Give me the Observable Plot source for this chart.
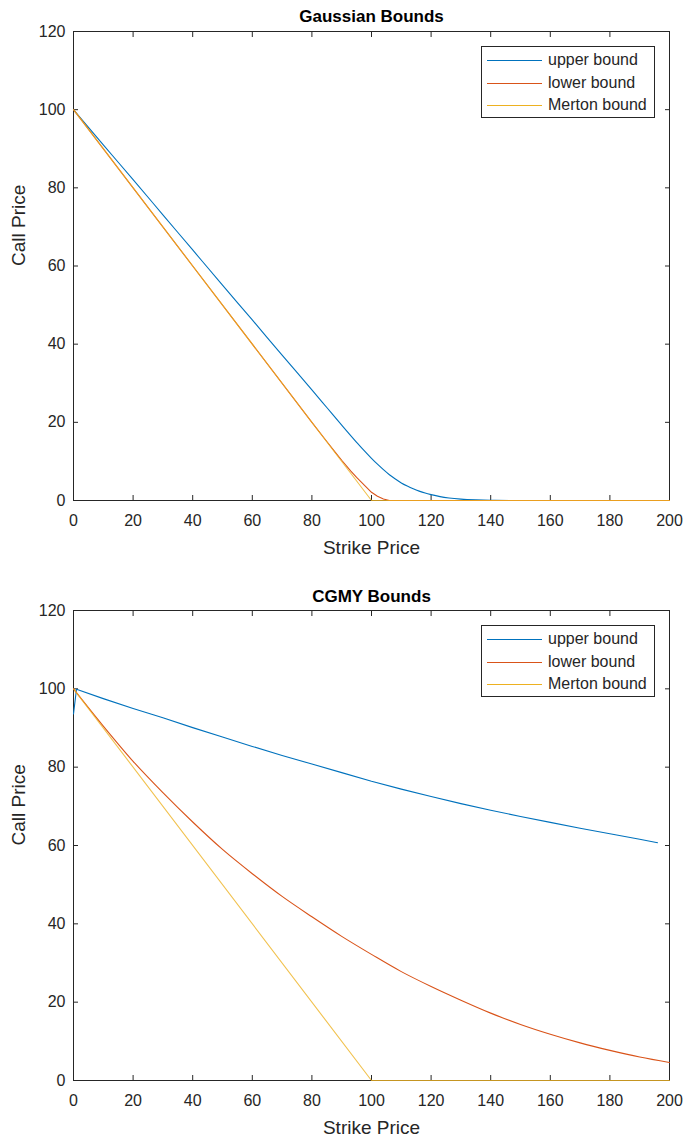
<!DOCTYPE html>
<html><head><meta charset="utf-8">
<script src="https://cdn.jsdelivr.net/npm/d3@7"></script>
<script src="https://cdn.jsdelivr.net/npm/@observablehq/plot@0.6"></script>
<style>
body{margin:0;background:#fff;font-family:"Liberation Sans",Arial,Helvetica,sans-serif;}
#wrap{position:relative;width:684px;height:1141px;}
.panel{position:absolute;left:0;width:684px;}
.legend{position:absolute;border:1px solid #262626;background:#fff;box-sizing:border-box;}
.row{position:absolute;left:0;height:20px;display:flex;align-items:center;font-size:16px;color:#262626;white-space:nowrap;}
.sw{display:inline-block;width:55px;height:1px;margin-left:5px;margin-right:6px;}
</style></head><body><div id="wrap"></div>
<script>
// ---- tick values ----
const xTicks = [0, 20, 40, 60, 80, 100, 120, 140, 160, 180, 200];
const yTicks = [0, 20, 40, 60, 80, 100, 120];
const seriesNames = ["upper bound", "lower bound", "Merton bound"];
const seriesColors = ["#0072BD", "#D95319", "#EDB120"];

// ---- Gaussian Bounds (top panel) ----
const gaussUpperStrike = [0, 10, 20, 30, 40, 50, 60, 70, 80, 85, 90, 95, 97, 100, 102, 104, 106, 108, 110, 112, 114, 116, 118, 120, 123, 126, 130, 135, 140, 150, 200];
const gaussUpper       = [100, 91.0, 82.1, 73.1, 64.1, 55.1, 46.2, 37.2, 28.3, 23.8, 19.3, 14.9, 13.2, 10.8, 9.3, 7.9, 6.6, 5.5, 4.5, 3.7, 3.0, 2.4, 1.9, 1.5, 1.0, 0.65, 0.35, 0.15, 0.05, 0, 0];
const gaussLowerStrike = [0, 20, 40, 60, 80, 85, 88, 90, 93, 95, 98, 100, 102, 104, 106, 200];
const gaussLower       = [100, 80, 60, 40, 20, 15.1, 12.2, 10.3, 7.6, 5.9, 3.6, 2.1, 1.1, 0.4, 0, 0];
const gaussMertonStrike = [0, 100, 200];
const gaussMerton       = [100, 0, 0];

// ---- CGMY Bounds (bottom panel) ----
const cgmyUpperStrike = [0, 1, 10, 20, 30, 40, 50, 60, 70, 80, 90, 100, 110, 120, 130, 140, 150, 160, 170, 180, 190, 196];
const cgmyUpper       = [93.6, 99.9, 97.5, 95.0, 92.6, 90.1, 87.7, 85.3, 83.0, 80.8, 78.6, 76.4, 74.4, 72.5, 70.7, 69.0, 67.4, 65.9, 64.4, 63.0, 61.6, 60.7];
const cgmyLowerStrike = [0, 10, 20, 30, 40, 50, 60, 70, 80, 90, 100, 110, 120, 130, 140, 150, 160, 170, 180, 190, 200];
const cgmyLower       = [100, 90.5, 81.5, 73.5, 66.0, 59.0, 52.8, 47.0, 41.8, 36.8, 32.2, 27.8, 24.0, 20.5, 17.2, 14.3, 11.8, 9.6, 7.7, 6.0, 4.6];
const cgmyMertonStrike = [0, 100, 200];
const cgmyMerton       = [100, 0, 0];

const toRows = (xs, ys) => xs.map((x, i) => ({x, y: ys[i]}));

function panel({title, titleDy, series, height, marginTop, marginBottom, smooth}) {
  const lineMarks = series.map((s, i) => Plot.line(s, {
    x: "x", y: "y", stroke: seriesColors[i], strokeWidth: 1.1,
    strokeOpacity: i === 2 ? 0.8 : 1,
    curve: smooth[i] ? "monotone-x" : "linear"
  }));
  return Plot.plot({
    width: 684, height,
    marginLeft: 73, marginRight: 15, marginTop, marginBottom,
    x: {domain: [0, 200]},
    y: {domain: [0, 120]},
    style: {fontFamily: '"Liberation Sans", Arial, Helvetica, sans-serif', fontSize: "16px", color: "#262626", background: "white"},
    marks: [
      Plot.frame({stroke: "#262626", strokeWidth: 1}),
      Plot.axisX(xTicks, {anchor: "bottom", tickSize: -5, tickPadding: 19, label: null, stroke: "#262626"}),
      Plot.axisX(xTicks, {anchor: "top", tickSize: -5, tickFormat: () => "", label: null, stroke: "#262626"}),
      Plot.axisY(yTicks, {anchor: "left", tickSize: -5, tickPadding: 13, label: null, stroke: "#262626"}),
      Plot.axisY(yTicks, {anchor: "right", tickSize: -5, tickFormat: () => "", label: null, stroke: "#262626"}),
      ...lineMarks,
      Plot.text([title], {text: d => d, frameAnchor: "top", dy: titleDy, fontWeight: "bold", fontSize: 17, fill: "#000"}),
      Plot.text(["Strike Price"], {text: d => d, frameAnchor: "bottom", dy: 53, fontSize: 19, fill: "#262626"}),
      Plot.text(["Call Price"], {text: d => d, frameAnchor: "left", dx: -55, rotate: -90, fontSize: 19, fill: "#262626"})
    ]
  });
}

function legend(top) {
  const box = document.createElement("div");
  box.className = "legend";
  Object.assign(box.style, {left: "481px", top: top + "px", width: "174px", height: "72px"});
  const rowTops = [3, 26, 48];
  seriesNames.forEach((name, i) => {
    const row = document.createElement("div");
    row.className = "row";
    row.style.top = rowTops[i] + "px";
    const sw = document.createElement("span");
    sw.className = "sw";
    sw.style.background = seriesColors[i];
    row.appendChild(sw);
    row.appendChild(document.createTextNode(name));
    box.appendChild(row);
  });
  return box;
}

const wrap = document.getElementById("wrap");

const top1 = document.createElement("div");
top1.className = "panel"; top1.style.top = "0px";
top1.appendChild(panel({
  title: "Gaussian Bounds", titleDy: -22,
  series: [toRows(gaussUpperStrike, gaussUpper), toRows(gaussLowerStrike, gaussLower), toRows(gaussMertonStrike, gaussMerton)],
  height: 578, marginTop: 31, marginBottom: 78, smooth: [true, false, false]
}));
wrap.appendChild(top1);
wrap.appendChild(legend(46));

const bot = document.createElement("div");
bot.className = "panel"; bot.style.top = "578px";
bot.appendChild(panel({
  title: "CGMY Bounds", titleDy: -21,
  series: [toRows(cgmyUpperStrike, cgmyUpper), toRows(cgmyLowerStrike, cgmyLower), toRows(cgmyMertonStrike, cgmyMerton)],
  height: 563, marginTop: 32, marginBottom: 61, smooth: [false, true, false]
}));
wrap.appendChild(bot);
wrap.appendChild(legend(625));
</script>
</body></html>
